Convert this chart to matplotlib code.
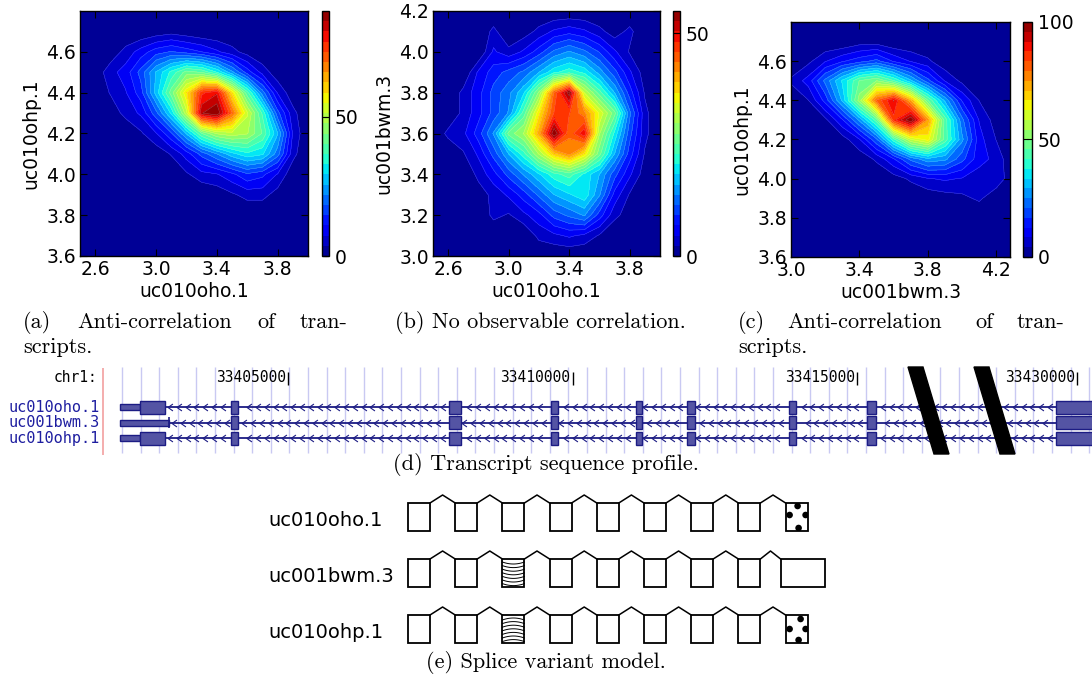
import numpy as np
import matplotlib.pyplot as plt
from matplotlib.patches import Rectangle, Polygon, Circle
from matplotlib.path import Path

W, H = 1092, 678

# ---- (a) uc010oho.1 (x) vs uc010ohp.1 (y), counts on a 0.1 grid, rows from top ----
a_x = [2.5, 2.6, 2.7, 2.8, 2.9, 3.0, 3.1, 3.2, 3.3, 3.4, 3.5, 3.6, 3.7, 3.8, 3.9, 4.0]
a_y = [3.6, 3.7, 3.8, 3.9, 4.0, 4.1, 4.2, 4.3, 4.4, 4.5, 4.6, 4.7, 4.8]
a_counts = [
    [0, 0, 0, 0, 0, 0, 0, 0, 0, 0, 0, 0, 0, 0, 0, 0],
    [0, 0, 0, 0, 0, 1, 2, 1, 0, 0, 0, 0, 0, 0, 0, 0],
    [0, 0, 1, 5, 9, 13, 15, 13, 11, 8, 5, 2, 0, 0, 0, 0],
    [0, 1, 6, 9, 16, 26, 34, 42, 40, 33, 23, 13, 6, 1, 0, 0],
    [0, 0, 4, 7, 13, 27, 42, 58, 76, 80, 58, 38, 20, 7, 1, 0],
    [0, 0, 1, 5, 8, 17, 30, 50, 84, 88, 70, 52, 36, 16, 5, 0],
    [0, 0, 0, 0, 3, 7, 14, 26, 40, 48, 50, 48, 40, 26, 7, 0],
    [0, 0, 0, 0, 0, 1, 4, 9, 16, 22, 28, 32, 30, 20, 5, 0],
    [0, 0, 0, 0, 0, 0, 0, 3, 6, 7, 10, 14, 12, 7, 1, 0],
    [0, 0, 0, 0, 0, 0, 0, 0, 0, 1, 3, 5, 5, 2, 0, 0],
    [0, 0, 0, 0, 0, 0, 0, 0, 0, 0, 0, 0, 0, 0, 0, 0],
    [0, 0, 0, 0, 0, 0, 0, 0, 0, 0, 0, 0, 0, 0, 0, 0],
    [0, 0, 0, 0, 0, 0, 0, 0, 0, 0, 0, 0, 0, 0, 0, 0],
]
a_max = 88

# ---- (b) uc010oho.1 (x) vs uc001bwm.3 (y) ----
b_x = [2.5, 2.6, 2.7, 2.8, 2.9, 3.0, 3.1, 3.2, 3.3, 3.4, 3.5, 3.6, 3.7, 3.8, 3.9, 4.0]
b_y = [3.0, 3.1, 3.2, 3.3, 3.4, 3.5, 3.6, 3.7, 3.8, 3.9, 4.0, 4.1, 4.2]
b_counts = [
    [0, 0, 0, 0, 0, 0, 0, 0, 0, 0, 0, 0, 0, 0, 0, 0],
    [0, 0, 0, 0, 3, 0, 1, 3, 5, 6, 5, 3, 1, 3, 0, 0],
    [0, 0, 0, 0, 5, 3, 5, 8, 12, 14, 12, 9, 5, 2, 0, 0],
    [0, 0, 0, 5, 8, 10, 12, 16, 20, 22, 20, 15, 10, 5, 1, 0],
    [0, 0, 3, 6, 10, 13, 18, 28, 44, 54, 32, 24, 16, 8, 2, 0],
    [0, 0, 3, 6, 10, 14, 24, 36, 46, 46, 42, 34, 26, 12, 3, 0],
    [0, 3, 4, 8, 14, 26, 30, 40, 55, 44, 50, 30, 20, 10, 3, 0],
    [0, 0, 2, 5, 10, 16, 22, 30, 38, 42, 36, 26, 16, 8, 2, 0],
    [0, 0, 0, 3, 6, 10, 14, 18, 22, 24, 20, 16, 10, 5, 1, 0],
    [0, 0, 0, 1, 3, 5, 8, 12, 16, 18, 20, 14, 6, 2, 0, 0],
    [0, 0, 0, 0, 3, 2, 4, 6, 10, 12, 14, 8, 3, 1, 0, 0],
    [0, 0, 0, 0, 0, 0, 0, 3, 4, 5, 4, 2, 0, 0, 0, 0],
    [0, 0, 0, 0, 0, 0, 0, 0, 0, 0, 0, 0, 0, 0, 0, 0],
]
b_max = 55

# ---- (c) uc001bwm.3 (x) vs uc010ohp.1 (y) ----
c_x = [3.0, 3.1, 3.2, 3.3, 3.4, 3.5, 3.6, 3.7, 3.8, 3.9, 4.0, 4.1, 4.2, 4.3]
c_y = [3.6, 3.7, 3.8, 3.9, 4.0, 4.1, 4.2, 4.3, 4.4, 4.5, 4.6, 4.7, 4.8]
c_counts = [
    [0, 0, 0, 0, 0, 0, 0, 0, 0, 0, 0, 0, 0, 0],
    [0, 0, 0, 0, 2, 2, 0, 0, 0, 0, 0, 0, 0, 0],
    [0, 3, 8, 12, 15, 18, 12, 8, 5, 1, 0, 0, 0, 0],
    [5, 10, 22, 34, 46, 50, 42, 30, 18, 8, 3, 0, 0, 0],
    [0, 4, 14, 30, 52, 80, 92, 72, 46, 28, 12, 4, 0, 0],
    [0, 0, 3, 12, 26, 44, 86, 100, 74, 44, 22, 8, 2, 0],
    [0, 0, 0, 2, 8, 20, 40, 58, 64, 44, 26, 10, 4, 0],
    [0, 0, 0, 0, 1, 5, 12, 22, 28, 26, 18, 10, 7, 0],
    [0, 0, 0, 0, 0, 0, 2, 5, 8, 9, 8, 6, 7, 1],
    [0, 0, 0, 0, 0, 0, 0, 0, 1, 2, 3, 5, 1, 0],
    [0, 0, 0, 0, 0, 0, 0, 0, 0, 0, 0, 0, 0, 0],
    [0, 0, 0, 0, 0, 0, 0, 0, 0, 0, 0, 0, 0, 0],
    [0, 0, 0, 0, 0, 0, 0, 0, 0, 0, 0, 0, 0, 0],
]
c_max = 100

# ---- (d) browser track: genomic coordinates (bp) ----
transcripts = ['uc010oho.1', 'uc001bwm.3', 'uc010ohp.1']
tx_start = 33402050
utr_end = [33402400, 33402910, 33402400]
first_exon_end = [33402840, None, 33402840]
inner_exons = [(33404000, 33404120), (33407830, 33408040), (33409620, 33409745),
               (33411115, 33411220), (33412010, 33412150), (33413805, 33413930),
               (33415175, 33415335)]
last_exon = (33429630, 33430400)
coord_ticks = [33405000, 33410000, 33415000, 33430000]
break_gap = 11133          # bp hidden by the axis break
break_at = 33419000

# ---- (e) splice variant model ----
model_names = ['uc010oho.1', 'uc001bwm.3', 'uc010ohp.1']
model_exons = [
    ['plain'] * 8 + ['dots'],
    ['plain', 'plain', 'wave_down', 'plain', 'plain', 'plain', 'plain', 'plain', 'long'],
    ['plain', 'plain', 'wave_up', 'plain', 'plain', 'plain', 'plain', 'plain', 'dots2'],
]

fig = plt.figure(figsize=(W / 100, H / 100), dpi=100)


def px_rect(l, t, r, b):
    return [l / W, 1 - b / H, (r - l) / W, (b - t) / H]


def density_panel(rect, crect, xs, ys, counts, zmax, xlim, ylim, xticks, yticks, cticks, xlabel, ylabel):
    ax = fig.add_axes(px_rect(*rect))
    X, Y = np.meshgrid(xs, ys)
    Z = np.array(counts, dtype=float)[::-1]
    levels = np.linspace(0, zmax, 25)
    ax.set_facecolor(plt.cm.jet(0.0))
    cf = ax.contourf(X, Y, Z, levels=levels, cmap='jet')
    ax.contour(X, Y, Z, levels=levels[1:-1], colors='white', linewidths=0.35, alpha=0.3)
    ax.set_xlim(*xlim)
    ax.set_ylim(*ylim)
    ax.set_xticks(xticks)
    ax.set_yticks(yticks)
    ax.set_xticklabels(['%.1f' % t for t in xticks])
    ax.set_yticklabels(['%.1f' % t for t in yticks])
    ax.tick_params(direction='in', top=True, right=True, length=5, width=0.8,
                   labelsize=13.5, pad=3)
    ax.set_xlabel(xlabel, fontsize=13.5, labelpad=2)
    ax.set_ylabel(ylabel, fontsize=13.5, labelpad=4)
    for s in ax.spines.values():
        s.set_linewidth(1.0)
    cax = fig.add_axes(px_rect(*crect))
    cb = fig.colorbar(cf, cax=cax, ticks=cticks)
    cb.outline.set_linewidth(1.0)
    cax.tick_params(direction='in', left=True, right=True, length=3.5, width=0.8,
                    labelsize=13.5, pad=4)
    cax.set_yticklabels([str(t) for t in cticks])
    return ax


density_panel((80, 11, 308, 256), (322, 11, 329, 256), a_x, a_y, a_counts, a_max,
              (2.5, 4.0), (3.6, 4.8), [2.6, 3.0, 3.4, 3.8], [3.6, 3.8, 4.0, 4.2, 4.4, 4.6],
              [0, 50], 'uc010oho.1', 'uc010ohp.1')
density_panel((433, 11, 660, 256), (673, 11, 680, 256), b_x, b_y, b_counts, b_max,
              (2.5, 4.0), (3.0, 4.2), [2.6, 3.0, 3.4, 3.8], [3.0, 3.2, 3.4, 3.6, 3.8, 4.0, 4.2],
              [0, 50], 'uc010oho.1', 'uc001bwm.3')
density_panel((791, 22, 1010, 257), (1023, 22, 1032, 257), c_x, c_y, c_counts, c_max,
              (3.0, 4.28), (3.6, 4.8), [3.0, 3.4, 3.8, 4.2], [3.6, 3.8, 4.0, 4.2, 4.4, 4.6],
              [0, 50, 100], 'uc001bwm.3', 'uc010ohp.1')

# overlay in pixel coordinates for captions and the splice model
ov = fig.add_axes([0, 0, 1, 1])
ov.set_xlim(0, W)
ov.set_ylim(H, 0)
ov.axis('off')
ov.patch.set_visible(False)

serif = 'cmr10'
cap_fs = 16


def caption_words(words, y):
    for x, w in words:
        ov.text(x, y, w, fontsize=cap_fs, family=serif, ha='left', va='center')


caption_words([(23, '(a)'), (77, 'Anti-correlation'), (257, 'of'), (300, 'tran-')], 322)
caption_words([(23, 'scripts.')], 347)
caption_words([(395, '(b) No observable correlation.')], 322)
caption_words([(738, '(c)'), (787, 'Anti-correlation'), (975, 'of'), (1017, 'tran-')], 322)
caption_words([(738, 'scripts.')], 347)
ov.text(546, 465, '(d) Transcript sequence profile.', fontsize=cap_fs, family=serif,
        ha='center', va='center')
ov.text(546, 662, '(e) Splice variant model.', fontsize=cap_fs, family=serif,
        ha='center', va='center')

# ---- (d) genome browser style panel ----
bp_per_px = 5000 / 284.5
g_left = 33405000 - 288 * bp_per_px
ad = fig.add_axes(px_rect(0, 362, W, 456))
ad.set_xlim(g_left, g_left + W * bp_per_px)
ad.set_ylim(456, 362)
ad.axis('off')


def disp(g):
    return g - break_gap if g > break_at else g


navy = '#1c1c84'
exon_fc = '#5454a4'
label_c = '#1e1ea0'

grid_x = g_left + np.arange(122, W, 18.6) * bp_per_px
ad.vlines(grid_x, 367, 453, colors='#c9c9f2', linewidth=1.0, zorder=0)
ad.vlines(g_left + 103.5 * bp_per_px, 368, 455, colors='#f2a0a0', linewidth=1.2, zorder=0)

mono = 'DejaVu Sans Mono'
ad.text(g_left + 97 * bp_per_px, 378, 'chr1:', family=mono, fontsize=10.5, ha='right', va='center')
for t in coord_ticks:
    x = disp(t)
    ad.text(x - 2 * bp_per_px, 378, str(t), family=mono, fontsize=10.5, ha='right', va='center')
    ad.vlines(x, 372, 385, colors='black', linewidth=1.0)

row_y = [407, 422.5, 438]
thick_h, thin_h = 13, 6
chev = Path([(0.7, 1.0), (-0.7, 0.0), (0.7, -1.0)], [Path.MOVETO, Path.LINETO, Path.LINETO])
for i, name in enumerate(transcripts):
    y = row_y[i]
    ad.text(g_left + 100 * bp_per_px, y, name, family=mono, fontsize=11, color=label_c,
            ha='right', va='center')
    intron_start = first_exon_end[i] if first_exon_end[i] else utr_end[i]
    lx = disp(last_exon[0])
    ad.hlines(y, intron_start, lx, colors=navy, linewidth=1.3, zorder=2)
    # chevrons along the intron line, not on exons
    cx = np.arange(intron_start + 5 * bp_per_px, lx - 3 * bp_per_px, 8.8 * bp_per_px)
    keep = np.ones(len(cx), bool)
    for s, e in inner_exons:
        keep &= ~((cx > s - 3 * bp_per_px) & (cx < e + 3 * bp_per_px))
    ad.plot(cx[keep], np.full(keep.sum(), y), ls='none', marker=chev, markersize=5,
            markeredgecolor=navy, markeredgewidth=0.8, fillstyle='none', zorder=3)
    # 5' UTR (thin) and first coding exon
    ad.add_patch(Rectangle((tx_start, y - thin_h / 2), utr_end[i] - tx_start, thin_h,
                           fc=exon_fc, ec=navy, lw=1.0, zorder=4))
    if first_exon_end[i]:
        ad.add_patch(Rectangle((utr_end[i], y - thick_h / 2), first_exon_end[i] - utr_end[i],
                               thick_h, fc=exon_fc, ec=navy, lw=1.0, zorder=4))
    else:
        ad.vlines(utr_end[i], y - thick_h / 2 + 1, y + thick_h / 2 - 1, colors=navy, linewidth=1.2, zorder=4)
    for s, e in inner_exons:
        ad.add_patch(Rectangle((s, y - thick_h / 2), e - s, thick_h, fc=exon_fc, ec=navy,
                               lw=1.0, zorder=4))
    ad.add_patch(Rectangle((lx, y - thick_h / 2), disp(last_exon[1]) - lx, thick_h,
                           fc=exon_fc, ec=navy, lw=1.0, zorder=4))

# axis-break slashes
for sx in (908, 974):
    x0 = g_left + sx * bp_per_px
    dx = 15 * bp_per_px
    sk = 26 * bp_per_px
    ad.add_patch(Polygon([(x0, 367), (x0 + dx, 367), (x0 + dx + sk, 454), (x0 + sk, 454)],
                         closed=True, fc='black', ec='black', zorder=6))

# ---- (e) splice variant model ----
box_w, box_h, step, x_first = 22, 28, 47.2, 408
row_tops = [503, 559, 615]
for r, name in enumerate(model_names):
    top = row_tops[r]
    ov.text(268, top + box_h / 2 + 3, name, fontsize=14, ha='left', va='center')
    lefts = []
    widths = []
    for k, kind in enumerate(model_exons[r]):
        left = x_first + k * step
        w = box_w
        if kind == 'long':
            left -= 5
            w = 44
        lefts.append(left)
        widths.append(w)
        box = Rectangle((left, top), w, box_h, fc='white', ec='black', lw=1.3, zorder=3)
        ov.add_patch(box)
        if kind.startswith('wave'):
            u = np.linspace(-1, 1, 30)
            sign = 1 if kind == 'wave_down' else -1
            for j in range(7):
                yy = top + 4 + j * 3.6 + sign * 2.0 * (1 - u ** 2) - sign * 1.0
                ov.plot(left + w / 2 + u * w / 2, yy, color='black', lw=0.7, zorder=4,
                        clip_path=box)
        if kind.startswith('dots'):
            pts = [(12, 3), (4, 12), (20, 12), (13, 25)] if kind == 'dots' else \
                  [(15, 4), (4, 14), (20, 14), (13, 25)]
            for px, py in pts:
                c = Circle((left + px, top + py), 3.3, fc='black', ec='none', zorder=4)
                ov.add_patch(c)
                c.set_clip_path(box)
    for k in range(len(lefts) - 1):
        x1 = lefts[k] + widths[k]
        x2 = lefts[k + 1]
        ov.plot([x1, (x1 + x2) / 2, x2], [top, top - 8, top], color='black', lw=1.1, zorder=2)

fig.savefig('out.png', dpi=100)
